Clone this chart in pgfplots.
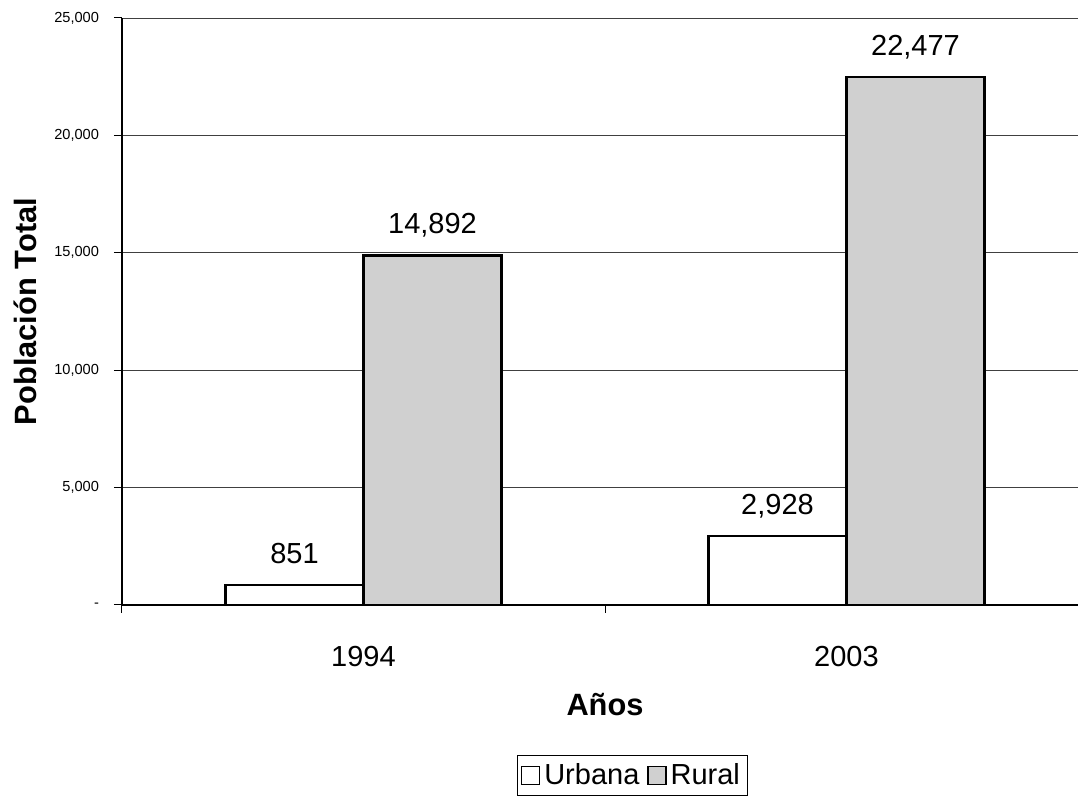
\documentclass[border=0pt]{standalone}
\usepackage{fontspec}
\setmainfont{Liberation Sans}
\usepackage{pgfplots}
\pgfplotsset{compat=1.18}
\definecolor{ruralgray}{RGB}{208,208,208}
\begin{document}
\begin{tikzpicture}
\useasboundingbox (0,0) rectangle (539pt,399pt);
\begin{axis}[
  at={(61pt,96.5pt)}, anchor=south west,
  scale only axis, width=483pt, height=293.5pt,
  ybar=0pt, bar width=0.2857,
  xmin=-0.5, xmax=1.5, ymin=0, ymax=25000,
  axis x line*=bottom, axis y line*=left,
  axis line style={black, line width=0.8pt},
  ytick={0,5000,10000,15000,20000,25000},
  yticklabels={{-},{5,000},{10,000},{15,000},{20,000},{25,000}},
  yticklabel style={font=\fontsize{7.3}{9}\selectfont, xshift=-4pt},
  ymajorgrids, grid style={black!75, line width=0.4pt},
  xtick={0,1}, xticklabels={1994,2003},
  xtick style={draw=none},
  xticklabel style={font=\fontsize{14.5}{17}\selectfont, anchor=center, yshift=-22pt},
  extra x ticks={-0.5,0.5,1.5}, extra x tick labels={},
  extra x tick style={xtick style={draw=black, line width=0.5pt}, grid=none},
  major tick length=4pt, tick align=outside,
  ytick style={black, line width=0.5pt},
  xlabel={\textbf{Años}},
  xlabel style={font=\fontsize{15.4}{18}\selectfont, at={(axis description cs:0.5,-0.1704)}, anchor=center},
  ylabel={\textbf{Población Total}},
  ylabel style={font=\fontsize{15.4}{18}\selectfont, at={(axis description cs:-0.1004,0.5)}, anchor=center},
  nodes near coords,
  /pgf/number format/.cd, 1000 sep={,}, assume math mode=true, /pgfplots/.cd,
  nodes near coords style={font=\fontsize{14.5}{17}\selectfont, anchor=base, yshift=11pt, black},
  legend style={at={(axis description cs:0.5,0)}, anchor=north, yshift=-75pt, xshift=13.75pt,
    legend columns=2, draw=black, line width=0.5pt, font=\fontsize{14.5}{17}\selectfont,
    inner sep=2pt, /tikz/every even column/.append style={column sep=2pt}},
  legend image code/.code={\draw[#1, line width=0.6pt] (0pt,-4.5pt) rectangle (9pt,4.5pt);},
]
\addplot[draw=black, line width=1.2pt, fill=white] coordinates {(0,851) (1,2928)};
\addplot[draw=black, line width=1.2pt, fill=ruralgray] coordinates {(0,14892) (1,22477)};
\legend{Urbana, Rural}
\end{axis}
\end{tikzpicture}
\end{document}
